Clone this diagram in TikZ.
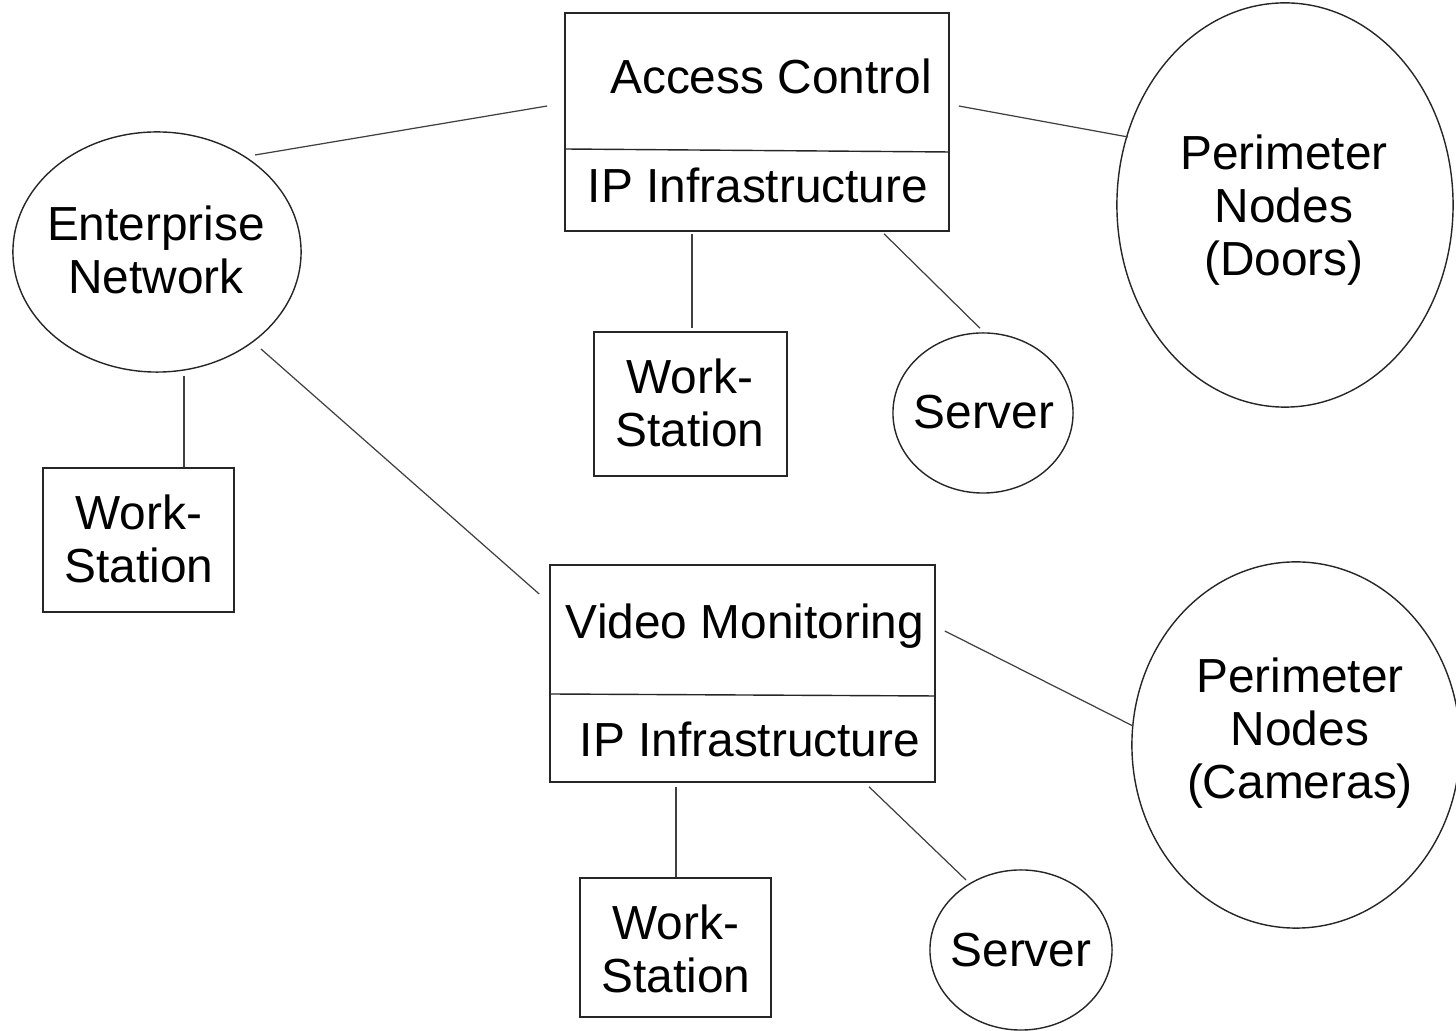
\documentclass[tikz,border=0pt]{standalone}
\usepackage{fontspec}
\setmainfont{Liberation Sans}
\usetikzlibrary{shapes.geometric,calc}

\begin{document}
\begin{tikzpicture}[
  x=0.01cm, y=-0.01cm,
  box/.style={draw=black!85, line width=0.4pt, rectangle, inner sep=0pt},
  oval/.style={draw=black!85, line width=0.4pt, ellipse, inner sep=0pt},
  divider/.style={draw=black!85, line width=0.4pt},
  lbl/.style={inner sep=0pt, align=center, font=\fontsize{13.6}{15}\selectfont},
  wire/.style={draw=black!75, line width=0.35pt}
]
\path[use as bounding box] (0,0) rectangle (1456,1031);

% ---- shapes ----
\node[oval, minimum width=2.88cm, minimum height=2.40cm] (en) at (157,252) {};
\node[box, minimum width=3.84cm, minimum height=2.18cm] (ac) at (757,122) {};
\node[box, minimum width=3.85cm, minimum height=2.17cm] (vm) at (742.5,673.5) {};
\node[oval, minimum width=3.36cm, minimum height=4.04cm] (doors) at (1285,205) {};
\node[oval, minimum width=3.28cm, minimum height=3.66cm] (cams) at (1296,745) {};
\node[oval, minimum width=1.80cm, minimum height=1.60cm] (srvA) at (983,413) {};
\node[oval, minimum width=1.82cm, minimum height=1.60cm] (srvB) at (1021,950) {};
\node[box, minimum width=1.93cm, minimum height=1.44cm] (wsA) at (690.5,404) {};
\node[box, minimum width=1.91cm, minimum height=1.44cm] (wsL) at (138.5,540) {};
\node[box, minimum width=1.91cm, minimum height=1.39cm] (wsB) at (675.5,947.5) {};

% ---- compartment dividers ----
\path[divider] ($(ac.west)+(0,27)$) -- ($(ac.east)+(0,30)$);
\path[divider] ($(vm.west)+(0,20.5)$) -- ($(vm.east)+(0,22.5)$);

% ---- labels ----
\node[lbl, anchor=base] (acT)  at (771,94)  {Access Control};
\node[lbl, anchor=base] (acIP) at (758,203) {IP Infrastructure};
\node[lbl, anchor=base] (vmT)  at (745,639) {Video Monitoring};
\node[lbl, anchor=base] (vmIP) at (750,757) {IP Infrastructure};
\node[lbl] (enT)    at (156,250)  {Enterprise\\Network};
\node[lbl] (doorsT) at (1284,210) {Perimeter\\Nodes\\(Doors)};
\node[lbl] (camsT)  at (1300,733) {Perimeter\\Nodes\\(Cameras)};
\node[lbl, anchor=base] (srvAT) at (984,429)  {Server};
\node[lbl, anchor=base] (srvBT) at (1021,967) {Server};
\node[lbl] (wsAT) at (690,403) {Work-\\Station};
\node[lbl] (wsLT) at (139,539)   {Work-\\Station};
\node[lbl] (wsBT) at (676,949)   {Work-\\Station};

% ---- connectors ----
\path[wire] ($(en.center)+(98,-97)$)   -- ($(ac.west)+(-17,-16)$);
\path[wire] ($(ac.east)+(9,-16)$)      -- ($(doors.center)+(-157,-68)$);
\path[wire] ($(ac.south)+(-65,2)$)     -- ($(wsA.north)+(1.5,-3)$);
\path[wire] ($(ac.south)+(127,2)$)     -- ($(srvA.north)+(-3,-4)$);
\path[wire] ($(en.south)+(27,3)$)      -- ($(wsL.north)+(45.5,0)$);
\path[wire] ($(en.center)+(104,97)$)   -- ($(vm.west)+(-10,-79.5)$);
\path[wire] ($(vm.east)+(9,-42.5)$)    -- ($(cams.center)+(-163,-19)$);
\path[wire] ($(vm.south)+(-66.5,4)$)   -- ($(wsB.north)+(0.5,0)$);
\path[wire] ($(vm.south)+(126.5,4)$)   -- ($(srvB.center)+(-55,-70)$);
\end{tikzpicture}
\end{document}
